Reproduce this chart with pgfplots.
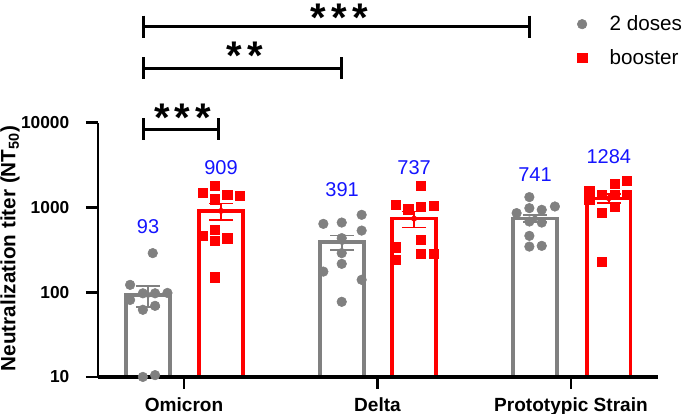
\documentclass[border=0pt]{standalone}
\usepackage{pgfplots}
\pgfplotsset{compat=1.18}
\usepackage{fontspec}
\setmainfont{Liberation Sans}
\definecolor{dgray}{RGB}{128,128,128}
\definecolor{vred}{RGB}{255,0,0}
\definecolor{vblue}{RGB}{20,20,255}
\begin{document}
\begin{tikzpicture}
\begin{axis}[
 name=ax,
 scale only axis, width=420pt, height=190.7pt,
 xmin=-0.445, xmax=2.45,
 ymode=log, ymin=10, ymax=10000,
 log origin y=infty,
 axis x line=bottom, axis y line=left,
 axis line style={-, line width=2pt},
 xtick={0,1,2}, xticklabels={Omicron,Delta,Prototypic Strain},
 ytick={10,100,1000,10000}, yticklabels={10,100,1000,10000},
 minor ytick={},
 minor y tick style={draw=none},
 tick style={line width=2pt, black},
 tick align=outside,
 major tick length=9pt,
 xticklabel style={font=\fontsize{14.3}{16}\selectfont\bfseries, yshift=-3pt},
 yticklabel style={font=\fontsize{13}{15}\selectfont\bfseries, xshift=-9pt},
 every axis y label/.style={at={(axis description cs:-0.157,0.505)}, rotate=90, anchor=center},
 ylabel={Neutralization titer (NT\textsubscript{50})},
 ylabel style={font=\fontsize{15.5}{18}\selectfont\bfseries},
 clip=false,
 legend style={at={(rel axis cs:0.8638,1.393)}, anchor=north west, xshift=-6.5pt, yshift=9.5pt,
   draw=none, fill=none, font=\fontsize{15.5}{18}\selectfont, row sep=8.3pt,
   /tikz/every odd column/.append style={column sep=15pt}},
 legend cell align=left,
]
% bars
\addplot[ybar, bar width=0.227, bar shift=0pt, draw=dgray, fill=white, line width=2.5pt, forget plot]
  coordinates {(-0.186,93) (0.817,391) (1.814,741)};
\addplot[ybar, bar width=0.227, bar shift=0pt, draw=vred, fill=white, line width=2.5pt, forget plot]
  coordinates {(0.191,909) (1.189,737) (2.196,1284)};
\draw[line width=2.7pt] (rel axis cs:0,0) -- (rel axis cs:1,0);
% points
\addplot[only marks, mark=*, mark size=3.6pt, dgray] coordinates {
 (-0.162,289) (-0.279,122) (-0.213,97) (-0.150,97) (-0.086,98) (-0.279,81) (-0.213,62) (-0.150,69) (-0.213,10) (-0.150,10.5)
 (0.720,640) (0.815,663) (0.918,818) (0.918,533) (0.815,434) (0.815,289) (0.815,216) (0.720,175) (0.918,140) (0.815,77)
 (1.785,1324) (1.719,857) (1.785,981) (1.849,937) (1.917,1026) (1.785,682) (1.849,663) (1.785,462) (1.785,345) (1.849,352)
};
\addlegendentry{2 doses}
\addplot[only marks, mark=square*, mark size=3.5pt, vred] coordinates {
 (0.160,1799) (0.097,1476) (0.224,1409) (0.289,1383) (0.160,1253) (0.160,544) (0.097,462) (0.160,406) (0.224,434) (0.160,150)
 (1.225,1799) (1.096,1074) (1.159,955) (1.225,1026) (1.292,1045) (1.225,414) (1.096,340) (1.225,283) (1.292,283) (1.096,241)
 (2.288,2080) (2.227,1900) (2.095,1585) (2.159,1409) (2.227,1409) (2.288,1409) (2.095,1231) (2.227,1026) (2.159,871) (2.159,230)
};
\addlegendentry{booster}
% error bars
\addplot[forget plot, only marks, mark=none, dgray,
  error bars/.cd, y dir=both, y explicit,
  error bar style={line width=1.2pt, dgray},
  error mark options={rotate=90, line width=1.2pt, mark size=9pt, dgray}]
  coordinates {(-0.186,93) +- (0,26) (0.817,391) +- (0,77) (1.814,741) +- (0,70)};
\addplot[forget plot, only marks, mark=none, vred,
  error bars/.cd, y dir=both, y explicit,
  error bar style={line width=1.2pt, vred},
  error mark options={rotate=90, line width=1.2pt, mark size=9pt, vred}]
  coordinates {(0.191,909) +- (0,200) (1.189,737) +- (0,155) (2.196,1284) +- (0,160)};
% value labels
\begin{scope}[every node/.style={text=vblue, font=\fontsize{15}{18}\selectfont}]
\node at (axis cs:-0.186,595) {93};
\node at (axis cs:0.191,2911) {909};
\node at (axis cs:0.817,1644) {391};
\node at (axis cs:1.189,2911) {737};
\node at (axis cs:1.814,2427) {741};
\node at (axis cs:2.196,3926) {1284};
\end{scope}
% significance brackets
\begin{scope}[line width=2.2pt]
\draw (rel axis cs:0.0809,1.3775) -- (rel axis cs:0.770,1.3775);
\draw ([yshift=8.3pt]rel axis cs:0.0809,1.3775) -- ([yshift=-8.3pt]rel axis cs:0.0809,1.3775);
\draw ([yshift=8.3pt]rel axis cs:0.770,1.3775) -- ([yshift=-8.3pt]rel axis cs:0.770,1.3775);
\draw (rel axis cs:0.0809,1.2139) -- (rel axis cs:0.435,1.2139);
\draw ([yshift=8.3pt]rel axis cs:0.0809,1.2139) -- ([yshift=-8.3pt]rel axis cs:0.0809,1.2139);
\draw ([yshift=8.3pt]rel axis cs:0.435,1.2139) -- ([yshift=-8.3pt]rel axis cs:0.435,1.2139);
\draw (rel axis cs:0.0809,0.974) -- (rel axis cs:0.2148,0.974);
\draw ([yshift=8.3pt]rel axis cs:0.0809,0.974) -- ([yshift=-8.3pt]rel axis cs:0.0809,0.974);
\draw ([yshift=8.3pt]rel axis cs:0.2148,0.974) -- ([yshift=-8.3pt]rel axis cs:0.2148,0.974);
\end{scope}
\begin{scope}[every node/.style={anchor=base, yshift=-14.6pt, inner sep=0pt, font=\fontsize{30}{32}\selectfont\bfseries}]
\node at (rel axis cs:0.431,1.436) {*\hspace{3.8pt}*\hspace{3.8pt}*};
\node at (rel axis cs:0.2625,1.286) {*\hspace{3.8pt}*};
\node at (rel axis cs:0.151,1.042) {*\hspace{3.8pt}*\hspace{3.8pt}*};
\end{scope}
\end{axis}
\pgfresetboundingbox
\path ([xshift=-73.5pt,yshift=-27.75pt]ax.south west) rectangle ([xshift=20.25pt,yshift=92pt]ax.north east);
\end{tikzpicture}
\end{document}
